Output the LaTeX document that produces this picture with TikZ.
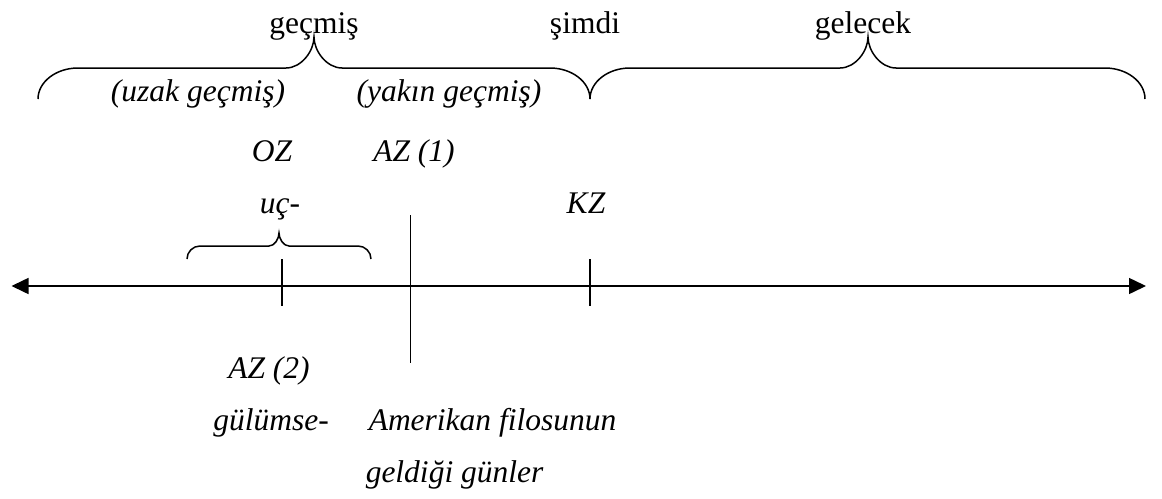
\documentclass[tikz,border=0pt]{standalone}
\usepackage{fontspec}
\setmainfont{LiberationSerif}[Extension=.ttf, UprightFont=*-Regular, ItalicFont=*-Italic, BoldFont=*-Bold]
\usetikzlibrary{arrows.meta}

\tikzset{
  word/.style={inner sep=0pt, anchor=base, font=\fontsize{31.5}{36}\selectfont},
  iword/.style={word, font=\fontsize{31.5}{36}\selectfont\itshape},
  >={Triangle[length=17pt, width=16pt]},
}

\begin{document}
\begin{tikzpicture}[x=1pt, y=-1pt, line width=1.5pt]
  \useasboundingbox (0,0) rectangle (1162,498);
  % time words on top
  \node[word] (gecmis) at (314,33) {geçmiş};
  \node[word] (simdi) at (585,33) {şimdi};
  \node[word] (gelecek) at (863,33) {gelecek};
  % braces: left x / tip x / right x / tip y / half height / end radius / middle radius
  \foreach \xa/\xm/\xb/\yt/\h/\r/\q in {38/314/590/37/31/40/28, 590/868/1145/37/31/40/28, 187/279/371/233/13/13/10} {
    \pgfmathsetmacro\ym{\yt+\h}
    \pgfmathsetmacro\yb{\yt+2*\h}
    \draw (\xa,\yb) .. controls (\xa,{\yb-0.55*\h}) and ({\xa+0.45*\r},\ym) .. ({\xa+\r},\ym)
      -- ({\xm-\q},\ym) .. controls ({\xm-0.45*\q},\ym) and (\xm,{\ym-0.55*\h}) .. (\xm,\yt)
      .. controls (\xm,{\ym-0.55*\h}) and ({\xm+0.45*\q},\ym) .. ({\xm+\q},\ym)
      -- ({\xb-\r},\ym) .. controls ({\xb-0.45*\r},\ym) and (\xb,{\yb-0.55*\h}) .. (\xb,\yb);
  }
  \node[iword] (uzak) at (198,101) {(uzak geçmiş)};
  \node[iword] (yakin) at (449,101) {(yakın geçmiş)};
  % labels above the line
  \node[iword] (oz) at (272,161) {OZ};
  \node[iword] (azbir) at (414,161) {AZ (1)};
  \node[iword] (uc) at (280,213) {uç-};
  \node[iword] (kz) at (586,213) {KZ};
  % time line
  \coordinate (axL) at (11.5,286);
  \coordinate (axR) at (1146,286);
  \draw[<->] (axL) -- (axR);
  % ticks
  \foreach \n/\x/\ya/\yb in {ucT/282/259/306, filoT/410.5/215/363, kzT/590/259/306} {
    \coordinate (\n-a) at (\x,\ya);
    \coordinate (\n-b) at (\x,\yb);
    \draw (\n-a) -- (\n-b);
  }
  % labels below the line
  \node[iword] (aziki) at (269,378) {AZ (2)};
  \node[iword] (gulumse) at (271,430) {gülümse-};
  \node[iword, anchor=base west] (amerikan) at (368,430) {Amerikan filosunun};
  \node[iword, anchor=base west] (geldigi) at (365,482) {geldiği günler};
\end{tikzpicture}
\end{document}
